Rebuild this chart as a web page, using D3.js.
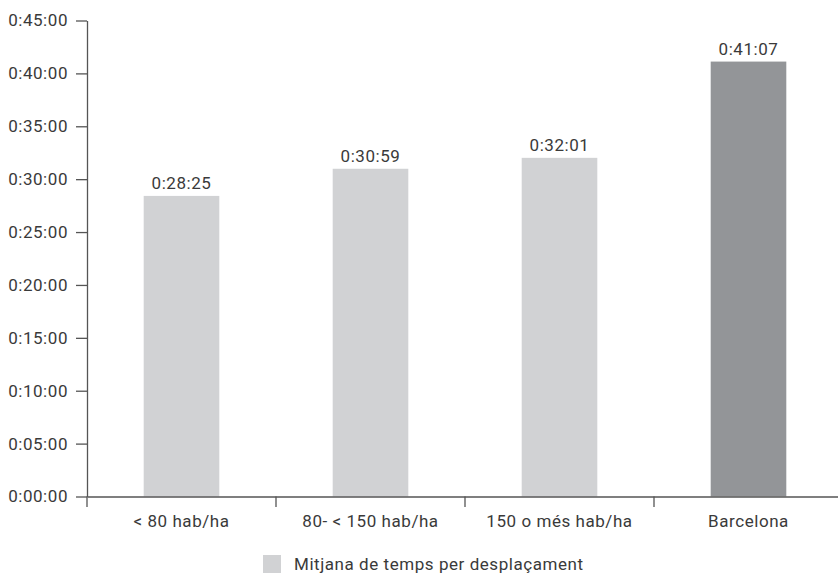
<!DOCTYPE html>
<html>
<head>
<meta charset="utf-8">
<script src="https://cdn.jsdelivr.net/npm/d3@7"></script>
<style>
html,body{margin:0;padding:0;background:#fff;}
text{font-family:Roboto,"DejaVu Sans",sans-serif;fill:#3a3a3a;letter-spacing:0.55px;}
</style>
</head>
<body>
<svg id="chart" width="838" height="573"></svg>
<script>
const categories = ["< 80 hab/ha", "80- < 150 hab/ha", "150 o més hab/ha", "Barcelona"];
const valueLabels = ["0:28:25", "0:30:59", "0:32:01", "0:41:07"];
const valuesSec = [1705, 1859, 1921, 2467];
const tickValuesSec = [0, 300, 600, 900, 1200, 1500, 1800, 2100, 2400, 2700];
const barColors = ["#d1d2d4", "#d1d2d4", "#d1d2d4", "#939598"];
const legendLabel = "Mitjana de temps per desplaçament";

const FS = 17;
const svg = d3.select("#chart");
const fmt = s => { const h = Math.floor(s/3600), m = Math.floor((s%3600)/60), ss = s%60;
  return h + ":" + String(m).padStart(2,"0") + ":" + String(ss).padStart(2,"0"); };

const x = d3.scaleBand().domain(categories).range([87, 843]).padding(0);
const y = d3.scaleLinear().domain([0, 2700]).range([496.5, 20.5]);

// bars
const bw = x.bandwidth() * 0.4;
svg.append("g").selectAll("rect").data(categories).join("rect")
  .attr("x", (d,i) => x(d) + x.bandwidth()/2 - bw/2)
  .attr("y", (d,i) => y(valuesSec[i]))
  .attr("width", bw)
  .attr("height", (d,i) => y(0) - y(valuesSec[i]))
  .attr("fill", (d,i) => barColors[i]);

// value labels
svg.append("g").selectAll("text").data(categories).join("text")
  .attr("x", d => x(d) + x.bandwidth()/2)
  .attr("y", (d,i) => y(valuesSec[i]) - 7)
  .attr("text-anchor", "middle")
  .attr("font-size", FS)
  .text((d,i) => valueLabels[i]);

// y axis
const yAxis = svg.append("g").attr("transform", "translate(87,0)")
  .call(d3.axisLeft(y).tickValues(tickValuesSec).tickFormat(fmt).tickSize(11).tickPadding(8).tickSizeOuter(0));
yAxis.select(".domain").attr("stroke", "#555").attr("stroke-width", 1.3);
yAxis.selectAll(".tick line").attr("stroke", "#555").attr("stroke-width", 1.3);
yAxis.selectAll(".tick text").attr("font-size", FS).attr("fill", "#3a3a3a")
  .style("font-family", "Roboto, 'DejaVu Sans', sans-serif");

// x axis
const xAxis = svg.append("g").attr("transform", "translate(0,496.5)")
  .call(d3.axisBottom(x).tickSize(0).tickPadding(18).tickSizeOuter(0));
xAxis.select(".domain").attr("stroke", "#555").attr("stroke-width", 1.3);
xAxis.selectAll(".tick text").attr("font-size", FS).attr("fill", "#3a3a3a")
  .style("font-family", "Roboto, 'DejaVu Sans', sans-serif");
// category boundary ticks
const bounds = categories.map(d => x(d)).concat([x.range()[1]]);
svg.append("g").selectAll("line").data(bounds).join("line")
  .attr("x1", d => d).attr("x2", d => d)
  .attr("y1", 496.5).attr("y2", 507)
  .attr("stroke", "#555").attr("stroke-width", 1.3);

// legend
svg.append("rect").attr("x", 263).attr("y", 555).attr("width", 18).attr("height", 18).attr("fill", barColors[0]);
svg.append("text").attr("x", 294).attr("y", 570).attr("font-size", FS).text(legendLabel);
</script>
</body>
</html>
